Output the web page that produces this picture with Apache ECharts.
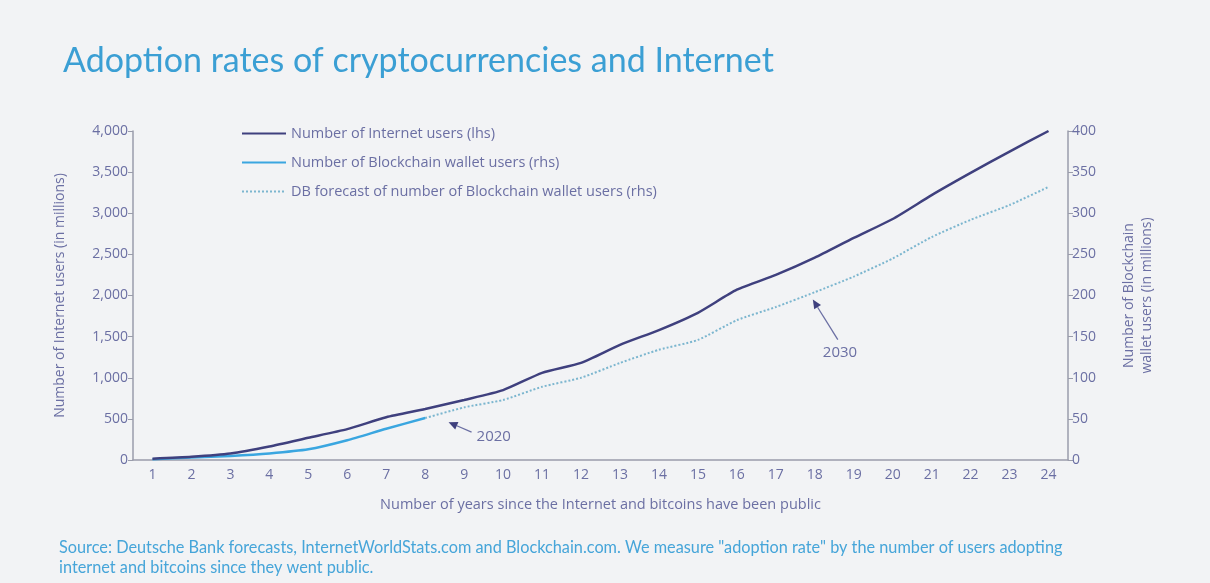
<!DOCTYPE html>
<html><head><meta charset="utf-8">
<script src="https://cdn.jsdelivr.net/npm/echarts@6/dist/echarts.min.js"></script>
<style>html,body{margin:0;padding:0;background:#f2f3f5;}#c{width:1210px;height:583px;}</style>
</head><body><div id="c"></div>
<script>
const years = ['1','2','3','4','5','6','7','8','9','10','11','12','13','14','15','16','17','18','19','20','21','22','23','24'];
const internetUsers = [16,40,80,165,270,375,520,620,730,850,1060,1180,1400,1580,1790,2070,2250,2460,2700,2930,3220,3490,3750,4000];
const walletUsers = [1,3,5,8,13,24,38,51,null,null,null,null,null,null,null,null,null,null,null,null,null,null,null,null];
const walletForecast = [null,null,null,null,null,null,null,51,64,73,89,100,118,134,146,170,186,204,223,245,271,292,310,332];
const leftTicks = [0,4000,500];
const rightTicks = [0,400,50];
const notes = [
  {text:'2020', pos:8.6, val:46, dx:23, dy:10, tx:5, ty:5},
  {text:'2030', pos:17.95, val:195, dx:25, dy:40, tx:-15, ty:13}
];

const labelColor = '#6b6fa3';
const smallFont = 'Open Sans';
const chart = echarts.init(document.getElementById('c'));
const option = {
  backgroundColor:'#f2f3f5',
  textStyle:{fontFamily:smallFont},
  title:{text:'Adoption rates of cryptocurrencies and Internet', left:58, top:39,
    textStyle:{fontFamily:'Lato', fontWeight:'normal', fontSize:34, color:'#3b9fd4'}},
  legend:{orient:'vertical', left:236, top:121, itemWidth:44, itemHeight:14, itemGap:14,
    itemStyle:{opacity:0},
    textStyle:{color:labelColor, fontSize:14.5, fontFamily:smallFont, padding:[0,0,0,0]},
    data:['Number of Internet users (lhs)','Number of Blockchain wallet users (rhs)','DB forecast of number of Blockchain wallet users (rhs)']},
  grid:{left:133, right:142, top:131, bottom:123},
  xAxis:{type:'category', data:years, boundaryGap:true,
    name:'Number of years since the Internet and bitcoins have been public', nameLocation:'middle', nameGap:37,
    nameTextStyle:{color:labelColor, fontSize:14.5},
    axisLine:{lineStyle:{color:'#9a9cab', width:1.5}},
    axisTick:{inside:true, length:5, lineStyle:{color:'#9a9cab'}},
    axisLabel:{color:labelColor, fontSize:14, margin:8}},
  yAxis:[{type:'value', min:leftTicks[0], max:leftTicks[1], interval:leftTicks[2],
    name:'Number of Internet users (in millions)', nameLocation:'middle', nameGap:66,
    nameTextStyle:{color:labelColor, fontSize:14},
    axisLine:{show:true, lineStyle:{color:'#9a9cab', width:1.5}},
    axisTick:{show:true, length:5, lineStyle:{color:'#9a9cab'}},
    splitLine:{show:false},
    axisLabel:{color:labelColor, fontSize:14, margin:5, formatter:v=>v.toLocaleString('en-US')}},
   {type:'value', min:rightTicks[0], max:rightTicks[1], interval:rightTicks[2], position:'right',
    name:'Number of Blockchain\nwallet users (in millions)', nameLocation:'middle', nameGap:52, nameRotate:90,
    nameTextStyle:{color:labelColor, fontSize:14, lineHeight:18},
    axisLine:{show:true, lineStyle:{color:'#9a9cab', width:1.5}},
    axisTick:{show:true, length:5, lineStyle:{color:'#9a9cab'}},
    splitLine:{show:false},
    axisLabel:{color:labelColor, fontSize:14, margin:4}}],
  series:[
    {name:'Number of Internet users (lhs)', type:'line', yAxisIndex:0, data:internetUsers, symbol:'none', smooth:0.2,
      lineStyle:{color:'#3f407e', width:2.5}, itemStyle:{color:'#3f407e'}, z:3},
    {name:'Number of Blockchain wallet users (rhs)', type:'line', yAxisIndex:1, data:walletUsers, symbol:'none', smooth:0.2,
      lineStyle:{color:'#3aa6e0', width:2.5}, itemStyle:{color:'#3aa6e0'}, z:2},
    {name:'DB forecast of number of Blockchain wallet users (rhs)', type:'line', yAxisIndex:1, data:walletForecast, symbol:'none', smooth:0.2,
      lineStyle:{color:'#7cb6cf', width:2, type:'dotted'}, itemStyle:{color:'#7cb6cf'}, z:1}
  ],
  graphic:[
    {type:'text', left:59, top:538, style:{text:'Source: Deutsche Bank forecasts, InternetWorldStats.com and Blockchain.com. We measure "adoption rate" by the number of users adopting\ninternet and bitcoins since they went public.',
      fill:'#46a5d9', font:'16.3px Lato', lineHeight:20}}
  ]
};
chart.setOption(option);
const g = [];
notes.forEach(n=>{
  const i = Math.floor(n.pos) - 1, f = n.pos - Math.floor(n.pos);
  const a = chart.convertToPixel({xAxisIndex:0, yAxisIndex:1}, [years[i], n.val]);
  const b = chart.convertToPixel({xAxisIndex:0, yAxisIndex:1}, [years[i+1], n.val]);
  const p = [a[0] + (b[0]-a[0])*f, a[1]];
  const tail = [p[0]+n.dx, p[1]+n.dy];
  const ang = Math.atan2(p[1]-tail[1], p[0]-tail[0]);
  const L=9, W=4;
  const bx = p[0]-L*Math.cos(ang), by = p[1]-L*Math.sin(ang);
  const px = -Math.sin(ang)*W, py = Math.cos(ang)*W;
  g.push({type:'line', shape:{x1:tail[0], y1:tail[1], x2:bx, y2:by}, style:{stroke:'#6b6fa3', lineWidth:1.3}});
  g.push({type:'polygon', shape:{points:[[p[0],p[1]],[bx+px,by+py],[bx-px,by-py]]}, style:{fill:'#3f407e'}});
  g.push({type:'text', x:tail[0]+n.tx, y:tail[1]+n.ty, style:{text:n.text, fill:'#6b6fa3', font:'15px "Open Sans"', textVerticalAlign:'middle'}});
});
chart.setOption({graphic: option.graphic.concat(g)});
</script></body></html>
